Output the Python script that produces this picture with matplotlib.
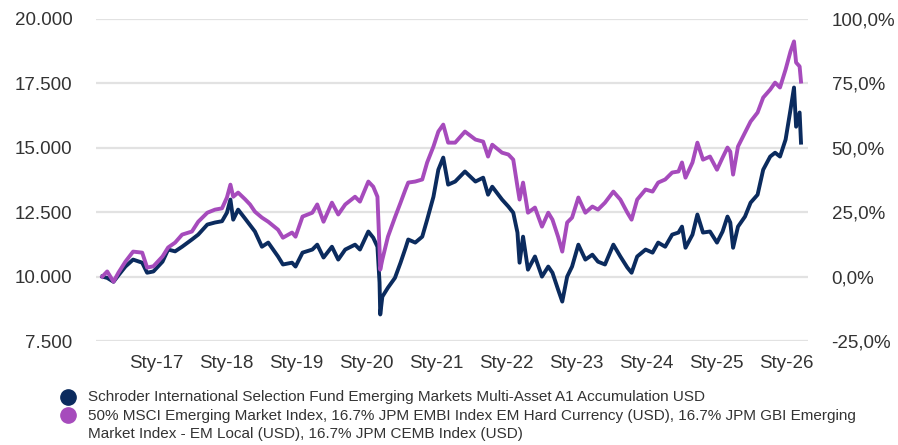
import matplotlib
matplotlib.use("Agg")
import matplotlib.pyplot as plt
from matplotlib.lines import Line2D
from matplotlib.ticker import FuncFormatter

plt.rcParams['font.family'] = ['Liberation Sans', 'DejaVu Sans']

# time axis in decimal years, values = growth of 10,000
years = [2016.23, 2016.30, 2016.39, 2016.46, 2016.56, 2016.67, 2016.80, 2016.87, 2016.96,
         2017.09, 2017.17, 2017.27, 2017.37, 2017.51, 2017.60, 2017.73, 2017.84, 2017.94,
         2018.01, 2018.06, 2018.10, 2018.17, 2018.27, 2018.34, 2018.41, 2018.51, 2018.60,
         2018.74, 2018.81, 2018.94, 2018.99, 2019.09, 2019.23, 2019.30, 2019.39, 2019.51,
         2019.60, 2019.70, 2019.84, 2019.91, 2020.03, 2020.10, 2020.16, 2020.19, 2020.20,
         2020.23, 2020.31, 2020.41, 2020.49, 2020.56, 2020.60, 2020.70, 2020.80, 2020.87,
         2020.96, 2021.03, 2021.10, 2021.17, 2021.27, 2021.41, 2021.56, 2021.67, 2021.74,
         2021.80, 2021.94, 2022.03, 2022.10, 2022.16, 2022.19, 2022.24, 2022.31, 2022.41,
         2022.51, 2022.60, 2022.66, 2022.74, 2022.80, 2022.87, 2022.94, 2023.03, 2023.13,
         2023.23, 2023.31, 2023.41, 2023.53, 2023.63, 2023.73, 2023.79, 2023.87, 2023.99,
         2024.09, 2024.17, 2024.27, 2024.37, 2024.46, 2024.51, 2024.56, 2024.66, 2024.73,
         2024.81, 2024.91, 2025.01, 2025.09, 2025.16, 2025.20, 2025.24, 2025.31, 2025.41,
         2025.49, 2025.59, 2025.67, 2025.77, 2025.84, 2025.91, 2025.99, 2026.06, 2026.11,
         2026.14, 2026.19, 2026.21]

fund = [10000, 9950, 9800, 10050, 10390, 10660, 10540, 10150, 10200,
        10580, 11050, 10980, 11160, 11440, 11630, 12020, 12100, 12150,
        12480, 12990, 12210, 12600, 12250, 12000, 11750, 11160, 11320,
        10780, 10470, 10540, 10390, 10930, 11050, 11240, 10740, 11160,
        10660, 11050, 11240, 11050, 11750, 11510, 11160, 9770, 8530,
        9220, 9570, 9950, 10540, 11100, 11440, 11320, 11550, 12210,
        13100, 14150, 14620, 13570, 13690, 14080, 13690, 13840, 13180,
        13490, 12990, 12720, 12480, 11710, 10540, 11550, 10270, 10780,
        10000, 10390, 10150, 9500, 9030, 10000, 10390, 11240, 10660,
        10850, 10580, 10470, 11240, 10780, 10350, 10150, 10780, 11050,
        10930, 11320, 11160, 11630, 11710, 11940, 11120, 11630, 12410,
        11710, 11750, 11320, 11750, 12330, 12100, 11120, 11940, 12330,
        12870, 13180, 14150, 14660, 14810, 14660, 15320, 16480, 17340,
        15820, 16370, 15200]

benchmark = [10000, 10200, 9800, 10150, 10580, 10970, 10930, 10350, 10400,
             10780, 11130, 11320, 11630, 11750, 12130, 12480, 12600, 12650,
             13070, 13570, 13100, 13260, 13000, 12800, 12520, 12290, 12130,
             11820, 11510, 11710, 11550, 12330, 12480, 12800, 12130, 12870,
             12410, 12800, 13100, 12910, 13690, 13490, 13100, 11050, 10270,
             10660, 11550, 12300, 12870, 13380, 13650, 13690, 13770, 14430,
             15050, 15630, 15900, 15200, 15200, 15630, 15320, 15240, 14660,
             15120, 14810, 14740, 14540, 13490, 12990, 13650, 12480, 12680,
             11940, 12480, 12210, 11550, 10970, 12100, 12290, 13070, 12480,
             12720, 12600, 12870, 13300, 12990, 12480, 12210, 12990, 13380,
             13300, 13650, 13770, 14040, 14080, 14430, 13840, 14430, 15200,
             14540, 14660, 14150, 14620, 15010, 14850, 13960, 15050, 15590,
             16020, 16370, 16950, 17260, 17530, 17340, 18040, 18740, 19130,
             18310, 18160, 17570]

tick_years = [2017, 2018, 2019, 2020, 2021, 2022, 2023, 2024, 2025, 2026]
tick_labels = ['Sty-17', 'Sty-18', 'Sty-19', 'Sty-20', 'Sty-21',
               'Sty-22', 'Sty-23', 'Sty-24', 'Sty-25', 'Sty-26']

fund_label = 'Schroder International Selection Fund Emerging Markets Multi-Asset A1 Accumulation USD'
bench_label = ('50% MSCI Emerging Market Index, 16.7% JPM EMBI Index EM Hard Currency (USD), 16.7% JPM GBI Emerging\n'
               'Market Index - EM Local (USD), 16.7% JPM CEMB Index (USD)')

navy = '#0b2b5e'
purple = '#a64bbc'
text_col = '#333333'

W, H = 898, 445
fig = plt.figure(figsize=(W / 100, H / 100), dpi=100)
ax = fig.add_axes([96 / W, 1 - 341 / H, (808 - 96) / W, (341 - 19) / H])

ax.plot(years, fund, color=navy, lw=2.8, solid_joinstyle='round', zorder=3)
ax.plot(years, benchmark, color=purple, lw=2.8, solid_joinstyle='round', zorder=3)

ax.set_xlim(2016.14, 2026.31)
ax.set_ylim(7500, 20000)
ax.set_yticks([7500, 10000, 12500, 15000, 17500, 20000])
ax.yaxis.set_major_formatter(FuncFormatter(lambda v, p: f"{v:,.0f}".replace(',', '.')))
ax.set_xticks(tick_years)
ax.set_xticklabels(tick_labels)
ax.grid(axis='y', color='#e2e2e2', lw=1.6)
ax.set_axisbelow(True)
for s in ax.spines.values():
    s.set_visible(False)
ax.tick_params(axis='both', length=0, labelsize=13.5, colors=text_col)
ax.tick_params(axis='y', pad=17)
ax.tick_params(axis='x', pad=10)

ax2 = ax.twinx()
ax2.set_ylim(-25, 100)
ax2.set_yticks([-25, 0, 25, 50, 75, 100])
ax2.yaxis.set_major_formatter(FuncFormatter(lambda v, p: f"{v:.1f}%".replace('.', ',')))
for s in ax2.spines.values():
    s.set_visible(False)
ax2.tick_params(axis='y', length=0, labelsize=13.5, colors=text_col, pad=17)

# legend drawn by hand so the marker lines up with the first text row
for yy, col in [(397, navy), (415, purple)]:
    fig.add_artist(Line2D([68 / W], [1 - yy / H], marker='o', markersize=11,
                          color=col, transform=fig.transFigure))
fig.text(88 / W, 1 - 397 / H, fund_label, fontsize=11, color=text_col, va='center')
fig.text(88 / W, 1 - 409 / H, bench_label, fontsize=11, color=text_col, va='top',
         linespacing=1.4)

fig.savefig('out.png', dpi=100)
